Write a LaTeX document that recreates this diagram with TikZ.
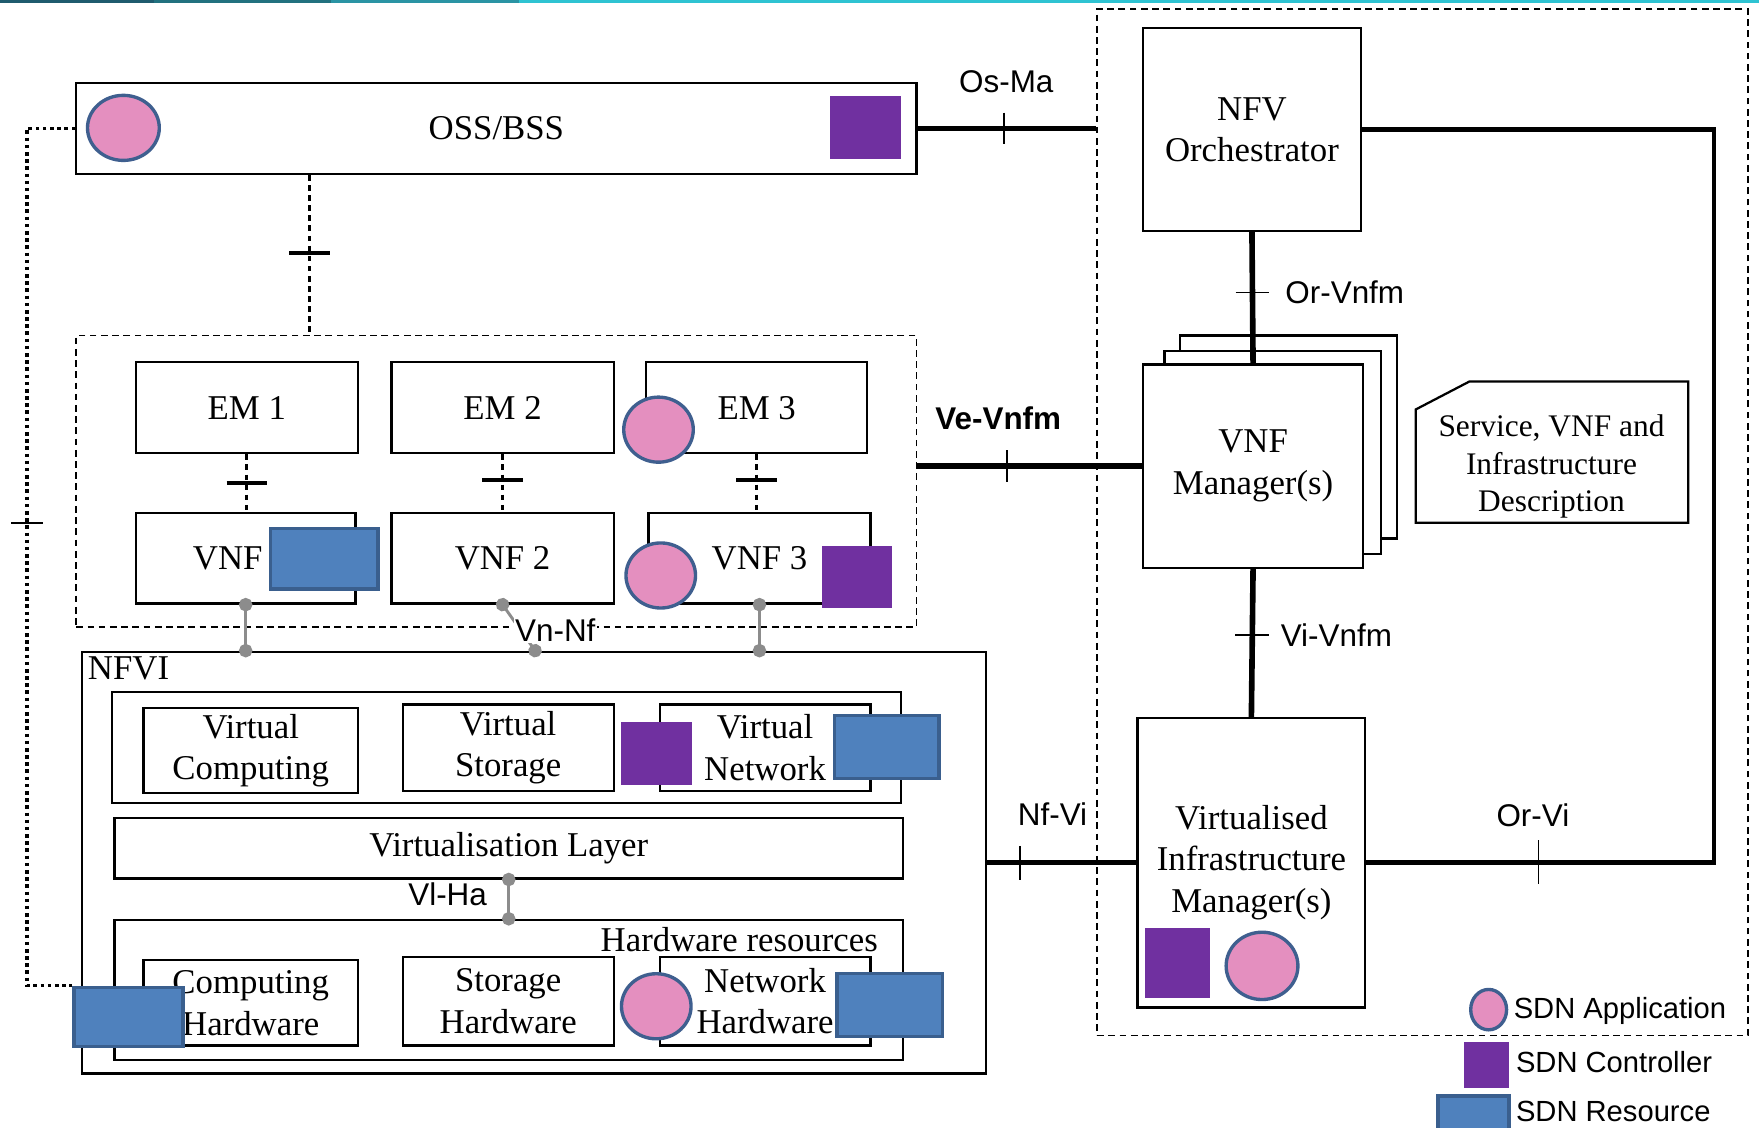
\documentclass[tikz,border=0pt]{standalone}
\usepackage{fontspec}
\setmainfont{Liberation Serif}
\setsansfont{Liberation Sans}
\usetikzlibrary{shapes.geometric,arrows.meta,calc}
\definecolor{appfill}{HTML}{E48FBF}
\definecolor{appline}{HTML}{3F5F8F}
\definecolor{ctlfill}{HTML}{7030A0}
\definecolor{resfill}{HTML}{4F81BD}
\definecolor{resline}{HTML}{3A5F8E}
\definecolor{dotgray}{HTML}{8C8C8C}
\definecolor{topA}{HTML}{1F5B6E}
\definecolor{topB}{HTML}{22717F}
\definecolor{topC}{HTML}{2A94A4}
\definecolor{topD}{HTML}{2EC3D2}
\newcommand\serifsz{\fontsize{15.5}{18.5}\selectfont}
\newcommand\descsz{\fontsize{14}{16.8}\selectfont}
\newcommand\sanssz{\sffamily\fontsize{14}{16}\selectfont}
\newcommand\legsz{\sffamily\fontsize{13}{15}\selectfont}
% \bx[style]{name}{x1}{y1}{x2}{y2}{text}
\newcommand\bx[7][box]{\node[#1, minimum width={(#5-#3)*0.5pt}, minimum height={(#6-#4)*0.5pt}] (#2) at ({(#3+#5)/2},{(#4+#6)/2}) {#7};}
% \el{name}{cx}{cy}{w}{h}
\newcommand\el[5]{\node[app, minimum width={#4*0.5pt}, minimum height={#5*0.5pt}] (#1) at (#2,#3) {};}
\begin{document}
\begin{tikzpicture}[x=0.5pt,y=-0.5pt,
  box/.style={draw, line width=1pt, fill=white, inner sep=0pt, align=center, font=\serifsz},
  dbox/.style={draw, line width=0.8pt, dash pattern=on 3pt off 2pt, inner sep=0pt},
  app/.style={ellipse, draw=appline, fill=appfill, line width=1.5pt, inner sep=0pt},
  ctl/.style={rectangle, fill=ctlfill, inner sep=0pt},
  res/.style={rectangle, draw=resline, fill=resfill, line width=1.5pt, inner sep=0pt},
  refthick/.style={line width=2.5pt},
  refmid/.style={line width=2pt, line join=miter},
  tickthin/.style={line width=0.8pt},
  tickthick/.style={line width=2pt},
  emdot/.style={line width=1.5pt, dash pattern=on 2.5pt off 2pt},
  longdot/.style={line width=1.6pt, dash pattern=on 1.6pt off 1.6pt},
  gdot/.style={draw=dotgray, line width=1.3pt, {Circle[length=6pt]}-{Circle[length=6pt]}, shorten <=-3pt, shorten >=-3pt},
  lab/.style={font=\sanssz, inner sep=1pt},
  leg/.style={font=\legsz, anchor=west, inner sep=0pt}]
\useasboundingbox (0,0) rectangle (1568,1005);
\clip (0,0) rectangle (1568,1005);
% top bar
\fill[topA] (0,0) rectangle (137,3);
\fill[topB] (137,0) rectangle (295,3);
\fill[topC] (295,0) rectangle (463,3);
\fill[topD] (463,0) rectangle (1568,3);

% dashed containers
\bx[dbox]{mano}{978}{8}{1558}{923}{}
\bx[dbox]{vnfdom}{68}{299}{817}{559}{}

% OSS/BSS
\bx{oss}{68}{74}{817}{155}{OSS/BSS}
\el{ossApp}{110}{114}{64}{58}
\bx[ctl]{ossCtl}{740}{86}{803}{142}{}

% MANO
\bx{orch}{1019}{25}{1213}{206}{NFV\\Orchestrator}
\bx{vnfmC}{1052}{299}{1245}{480}{}
\bx{vnfmB}{1038}{313}{1231}{494}{}
\bx{vnfm}{1019}{325}{1215}{506}{VNF\\Manager(s)}
\bx{vim}{1014}{640}{1217}{898}{Virtualised\\Infrastructure\\Manager(s)}
\bx[ctl]{vimCtl}{1021}{827}{1079}{890}{}
\el{vimApp}{1125}{861}{64}{60}
\draw[line width=1pt, fill=white] (1262,365) -- (1310,340) -- (1505,340) -- (1505,466) -- (1262,466) -- cycle;
\node[align=center, font=\descsz, inner sep=0pt] (desc) at (1383,416) {Service, VNF and\\Infrastructure\\Description};

% EMs and VNFs
\bx{em1}{121}{323}{319}{404}{EM 1}
\bx{em2}{349}{323}{547}{404}{EM 2}
\bx{em3}{576}{323}{773}{404}{EM 3}
\bx{vnf1}{121}{457}{317}{538}{\hspace*{-16pt}VNF}
\bx{vnf2}{349}{457}{547}{538}{VNF 2}
\bx{vnf3}{578}{457}{776}{538}{VNF 3}
\el{em3App}{587}{383}{62}{58}
\bx[res]{vnf1Res}{241}{471}{337}{525}{}
\el{vnf3App}{589}{513}{62}{58}
\bx[ctl]{vnf3Ctl}{733}{487}{795}{542}{}

% NFVI
\bx{nfvi}{73}{581}{879}{957}{}
\node[font=\serifsz, anchor=west, inner sep=0pt] (nfvilab) at (78,596) {NFVI};
\bx{vrow}{100}{617}{803}{716}{}
\bx{vc}{128}{631}{319}{707}{Virtual\\Computing}
\bx{vs}{359}{628}{547}{705}{Virtual\\Storage}
\bx{vn}{588}{628}{776}{705}{Virtual\\Network}
\bx[ctl]{vnCtl}{554}{644}{617}{700}{}
\bx[res]{vnRes}{744}{638}{837}{694}{}
\bx{vlayer}{102}{729}{805}{783}{Virtualisation Layer}
\bx{hwres}{102}{820}{805}{945}{}
\node[font=\serifsz, inner sep=0pt] (hwlab) at (659,838) {Hardware resources};
\bx{ch}{128}{856}{319}{932}{Computing\\Hardware}
\bx{sh}{359}{853}{547}{932}{Storage\\Hardware}
\bx{nh}{588}{853}{776}{932}{Network\\Hardware}
\bx[res]{chRes}{66}{880}{163}{933}{}
\el{nhApp}{585}{897}{62}{58}
\bx[res]{nhRes}{746}{868}{840}{924}{}

% reference points (thick)
\draw[refthick] (oss.east) -- coordinate[pos=0.484] (tOsMa) (oss.east -| mano.west);
\draw[tickthin] ($(tOsMa)+(0,-14)$) -- ($(tOsMa)+(0,14)$);
\node[lab] (lOsMa) at ($(tOsMa)+(2,-42)$) {Os-Ma};

\draw[refthick] (vnfm.west) -- coordinate[pos=0.6] (tVe) (vnfm.west -| vnfdom.east);
\draw[tickthin] ($(tVe)+(0,-14)$) -- ($(tVe)+(0,14)$);
\node[lab, font=\sanssz\bfseries] (lVe) at ($(tVe)+(-8,-43)$) {Ve-Vnfm};

\draw[refthick] (orch.south) -- coordinate[pos=0.46] (tOrVnfm) (vnfm.north);
\draw[tickthin] ($(tOrVnfm)+(-15,0)$) -- ($(tOrVnfm)+(15,0)$);
\node[lab, anchor=west] (lOrVnfm) at ($(tOrVnfm)+(27,0)$) {Or-Vnfm};

\draw[refthick] (vnfm.south) -- coordinate[pos=0.45] (tViVnfm) (vim.north);
\draw[tickthin] ($(tViVnfm)+(-15,0)$) -- ($(tViVnfm)+(15,0)$);
\node[lab, anchor=west] (lViVnfm) at ($(tViVnfm)+(23,0)$) {Vi-Vnfm};

\draw[refthick] (vim.west) -- coordinate[pos=0.78] (tNfVi) (vim.west -| nfvi.east);
\draw[tickthin] ($(tNfVi)+(0,-15)$) -- ($(tNfVi)+(0,15)$);
\node[lab] (lNfVi) at ($(tNfVi)+(29,-43)$) {Nf-Vi};

\coordinate (rc) at (1528,0);
\draw[refmid] (orch.east) -| (rc |- vim.east) -- coordinate[pos=0.505] (tOrVi) (vim.east);
\draw[tickthin] ($(tOrVi)+(0,-20)$) -- ($(tOrVi)+(0,19)$);
\node[lab] (lOrVi) at ($(tOrVi)+(-5,-42)$) {Or-Vi};

% dotted reference points
\coordinate (ossx) at ($(oss.south west)!0.278!(oss.south east)$);
\draw[emdot] (ossx) -- coordinate[pos=0.49] (tOss) (ossx |- vnfdom.north);
\draw[tickthick] ($(tOss)+(-18,0)$) -- ($(tOss)+(18,0)$);

\draw[emdot] (em1.south) -- coordinate (tEm1) (em1.south |- vnf1.north);
\draw[tickthick] ($(tEm1)+(-18,0)$) -- ($(tEm1)+(18,0)$);
\draw[emdot] (em2.south) -- coordinate[pos=0.45] (tEm2) (em2.south |- vnf2.north);
\draw[tickthick] ($(tEm2)+(-18,0)$) -- ($(tEm2)+(18,0)$);
\draw[emdot] (em3.south) -- coordinate[pos=0.45] (tEm3) (em3.south |- vnf3.north);
\draw[tickthick] ($(tEm3)+(-18,0)$) -- ($(tEm3)+(18,0)$);

\coordinate (lc) at (24,0);
\draw[longdot] (oss.west) -- (oss.west -| lc) -- coordinate[pos=0.46] (tLeft) (lc |- chRes.north west) -- (chRes.north west);
\draw[tickthin] ($(tLeft)+(-14,0)$) -- ($(tLeft)+(14,0)$);

% Vn-Nf and Vl-Ha
\draw[gdot] (vnf1.south) -- (vnf1.south |- nfvi.north);
\draw[gdot] (vnf3.south) -- (vnf3.south |- nfvi.north);
\draw[gdot] (vnf2.south) -- ($(vnf2.south |- nfvi.north)+(29,0)$);
\node[lab, fill=white, inner sep=0.5pt] (lVnNf) at (495,562) {Vn-Nf};
\draw[gdot] (vlayer.south) -- (hwres.north);
\node[lab] (lVlHa) at (399,797) {Vl-Ha};

% legend
\el{legApp}{1327}{900}{32}{36}
\node[leg] (legAppT) at (1349,901) {SDN Application};
\bx[ctl]{legCtl}{1305}{929}{1345}{970}{}
\node[leg] (legCtlT) at (1351,947) {SDN Controller};
\bx[res]{legRes}{1282}{977}{1345}{1012}{}
\node[leg] (legResT) at (1351,991) {SDN Resource};
\end{tikzpicture}
\end{document}
